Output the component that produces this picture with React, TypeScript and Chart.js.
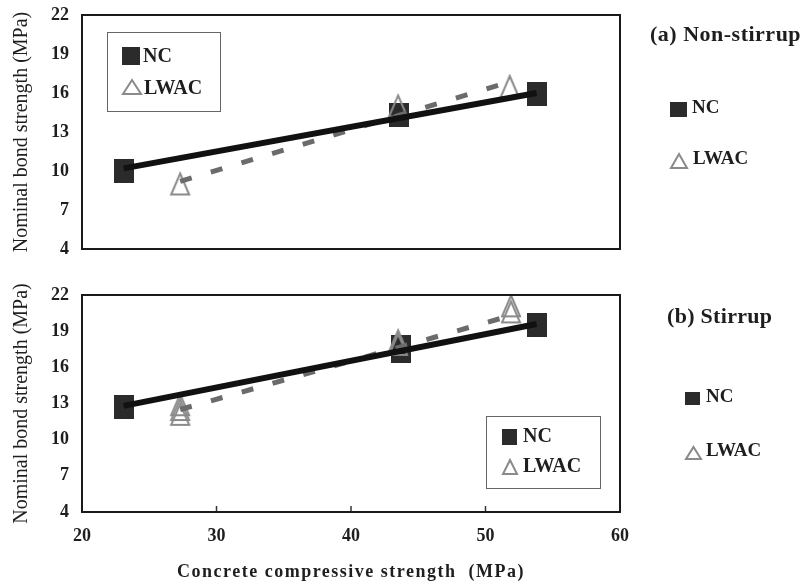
import React, { useEffect, useRef } from 'react';
import { Chart, registerables } from 'chart.js';

Chart.register(...registerables);

// ---------- axis ranges ----------
const X_MIN = 20;
const X_MAX = 60;
const X_STEP = 10;
const Y_MIN = 4;
const Y_MAX = 22;
const Y_STEP = 3;

// ---------- (a) Non-stirrup ----------
const ncTopX = [23.1, 43.6, 53.8];
const ncTopY = [10.0, 14.3, 15.9];
const lwacTopX = [27.3, 43.5, 51.8];
const lwacTopY = [9.0, 15.0, 16.5];
const ncTrendTopX = [23.1, 53.8];
const ncTrendTopY = [10.2, 16.0];
const lwacTrendTopX = [27.3, 51.8];
const lwacTrendTopY = [9.2, 16.85];

// ---------- (b) Stirrup ----------
const ncBotX = [23.1, 43.7, 43.7, 53.8];
const ncBotY = [12.75, 17.7, 17.35, 19.5];
const lwacBotX = [27.3, 27.3, 27.3, 43.5, 43.5, 51.9, 51.9];
const lwacBotY = [12.9, 12.5, 12.1, 18.2, 17.9, 21.1, 20.6];
const ncTrendBotX = [23.1, 53.8];
const ncTrendBotY = [12.8, 19.6];
const lwacTrendBotX = [27.3, 51.9];
const lwacTrendBotY = [12.5, 20.3];

// ---------- text ----------
const Y_TITLE = 'Nominal bond strength (MPa)';
const X_TITLE = 'Concrete compressive strength  (MPa)';
const PANEL_A = '(a) Non-stirrup';
const PANEL_B = '(b) Stirrup';
const NC = 'NC';
const LWAC = 'LWAC';

const FONT = "'Liberation Serif', 'Times New Roman', serif";
const SQ_COLOR = '#2b2b2b';
const TRI_COLOR = '#8a8a8a';
const TEXT_COLOR = '#1e1e1e';

Chart.defaults.font.family = FONT;
Chart.defaults.color = TEXT_COLOR;

const pts = (xs: number[], ys: number[]) => xs.map((x, i) => ({ x, y: ys[i] }));

function makeSquare(w: number, h: number) {
  const c = document.createElement('canvas');
  c.width = w;
  c.height = h;
  const g = c.getContext('2d')!;
  g.fillStyle = SQ_COLOR;
  g.fillRect(0, 0, w, h);
  return c;
}

function makeTriangle(w: number, h: number) {
  const pad = 2;
  const c = document.createElement('canvas');
  c.width = w + pad * 2;
  c.height = h + pad * 2;
  const g = c.getContext('2d')!;
  g.strokeStyle = TRI_COLOR;
  g.lineWidth = 2;
  g.beginPath();
  g.moveTo(pad + w / 2, pad + 1);
  g.lineTo(pad + w - 1, pad + h - 1);
  g.lineTo(pad + 1, pad + h - 1);
  g.closePath();
  g.stroke();
  return c;
}

function drawSq(ctx: CanvasRenderingContext2D, x: number, y: number, w: number, h: number) {
  ctx.fillStyle = SQ_COLOR;
  ctx.fillRect(x, y, w, h);
}

function drawTri(ctx: CanvasRenderingContext2D, x: number, y: number, w: number, h: number) {
  ctx.strokeStyle = TRI_COLOR;
  ctx.lineWidth = 2;
  ctx.beginPath();
  ctx.moveTo(x + w / 2, y + 1);
  ctx.lineTo(x + w - 1, y + h - 1);
  ctx.lineTo(x + 1, y + h - 1);
  ctx.closePath();
  ctx.stroke();
}

function text(
  ctx: CanvasRenderingContext2D,
  s: string,
  x: number,
  cy: number,
  size: number,
  spacing = 0,
  align: CanvasTextAlign = 'left'
) {
  ctx.font = `bold ${size}px ${FONT}`;
  ctx.fillStyle = TEXT_COLOR;
  ctx.textBaseline = 'middle';
  ctx.textAlign = align;
  (ctx as any).letterSpacing = `${spacing}px`;
  ctx.fillText(s, x, cy);
  (ctx as any).letterSpacing = '0px';
}

function framePlugin(id: string, innerTicks: boolean, extra: (ctx: CanvasRenderingContext2D, chart: any) => void) {
  return {
    id,
    afterDraw(chart: any) {
      const { ctx, chartArea: a } = chart;
      ctx.save();
      if (innerTicks) {
        const xs = chart.scales.x;
        ctx.strokeStyle = '#333';
        ctx.lineWidth = 1.5;
        xs.ticks.forEach((t: any) => {
          if (t.value <= xs.min || t.value >= xs.max) return;
          const px = xs.getPixelForValue(t.value);
          ctx.beginPath();
          ctx.moveTo(px, a.bottom);
          ctx.lineTo(px, a.bottom - 6);
          ctx.stroke();
        });
      }
      ctx.strokeStyle = '#1a1a1a';
      ctx.lineWidth = 2;
      ctx.strokeRect(a.left, a.top, a.right - a.left, a.bottom - a.top);
      extra(ctx, chart);
      ctx.restore();
    },
  };
}

function datasets(
  sq: HTMLCanvasElement,
  tri: HTMLCanvasElement,
  ncX: number[], ncY: number[],
  lwX: number[], lwY: number[],
  ntX: number[], ntY: number[],
  ltX: number[], ltY: number[]
) {
  return [
    {
      label: NC + ' trend',
      data: pts(ntX, ntY),
      showLine: true,
      borderColor: '#111111',
      borderWidth: 6,
      borderCapStyle: 'butt',
      pointRadius: 0,
      order: 0,
    },
    {
      label: LWAC + ' trend',
      data: pts(ltX, ltY),
      showLine: true,
      borderColor: '#6b6b6b',
      borderWidth: 5,
      borderDash: [12, 20],
      borderCapStyle: 'butt',
      pointRadius: 0,
      order: 1,
    },
    {
      label: LWAC,
      data: pts(lwX, lwY),
      showLine: false,
      pointStyle: tri,
      pointRadius: 12,
      order: 2,
    },
    {
      label: NC,
      data: pts(ncX, ncY),
      showLine: false,
      pointStyle: sq,
      pointRadius: 12,
      order: 3,
    },
  ];
}

function yScale() {
  return {
    type: 'linear',
    min: Y_MIN,
    max: Y_MAX,
    ticks: { stepSize: Y_STEP, font: { size: 18, weight: 'bold' }, color: TEXT_COLOR, padding: 13 },
    grid: { display: false, drawTicks: false },
    border: { display: false },
    title: {
      display: true,
      text: Y_TITLE,
      font: { size: 20, weight: 'normal' },
      color: TEXT_COLOR,
      padding: { top: 10, bottom: 0 },
    },
    afterFit: (s: any) => {
      s.width = 82;
      s.paddingTop = 0;
      s.paddingBottom = 0;
    },
  };
}

export default function App() {
  const topRef = useRef<HTMLCanvasElement>(null);
  const botRef = useRef<HTMLCanvasElement>(null);

  useEffect(() => {
    const sq = makeSquare(20, 24);
    const tri = makeTriangle(20, 23);

    const top = new Chart(topRef.current!, {
      type: 'scatter',
      data: {
        datasets: datasets(sq, tri, ncTopX, ncTopY, lwacTopX, lwacTopY, ncTrendTopX, ncTrendTopY, lwacTrendTopX, lwacTrendTopY) as any,
      },
      options: {
        responsive: false,
        animation: false,
        layout: { padding: { left: 0, top: 15, right: 186, bottom: 21 } },
        plugins: { legend: { display: false }, tooltip: { enabled: false } },
        scales: {
          x: { type: 'linear', min: X_MIN, max: X_MAX, display: false, ticks: { stepSize: X_STEP } },
          y: yScale() as any,
        },
      },
      plugins: [
        framePlugin('frameTop', false, (ctx) => {
          ctx.fillStyle = '#fff';
          ctx.fillRect(107.5, 32.5, 113, 79);
          ctx.strokeStyle = '#666';
          ctx.lineWidth = 1;
          ctx.strokeRect(107.5, 32.5, 113, 79);
          drawSq(ctx, 122, 47, 18, 18);
          text(ctx, NC, 143, 57, 20);
          drawTri(ctx, 122, 79, 20, 16);
          text(ctx, LWAC, 144, 89, 20);

          text(ctx, PANEL_A, 650, 35, 22, 0.5);
          drawSq(ctx, 670, 102, 17, 15);
          text(ctx, NC, 692, 108, 19);
          drawTri(ctx, 670, 153, 18, 16);
          text(ctx, LWAC, 693, 159, 19);
        }),
      ],
    } as any);

    const bot = new Chart(botRef.current!, {
      type: 'scatter',
      data: {
        datasets: datasets(sq, tri, ncBotX, ncBotY, lwacBotX, lwacBotY, ncTrendBotX, ncTrendBotY, lwacTrendBotX, lwacTrendBotY) as any,
      },
      options: {
        responsive: false,
        animation: false,
        layout: { padding: { left: 0, top: 25, right: 186, bottom: 0 } },
        plugins: { legend: { display: false }, tooltip: { enabled: false } },
        scales: {
          x: {
            type: 'linear',
            min: X_MIN,
            max: X_MAX,
            ticks: { stepSize: X_STEP, font: { size: 18, weight: 'bold' }, color: TEXT_COLOR, padding: 14 },
            grid: { display: false, drawTicks: false },
            border: { display: false },
            afterFit: (s: any) => {
              s.height = 72;
              s.paddingLeft = 0;
              s.paddingRight = 0;
            },
          },
          y: yScale() as any,
        },
      },
      plugins: [
        framePlugin('frameBot', true, (ctx, chart) => {
          const a = chart.chartArea;
          ctx.fillStyle = '#fff';
          ctx.fillRect(486.5, 146.5, 114, 72);
          ctx.strokeStyle = '#666';
          ctx.lineWidth = 1;
          ctx.strokeRect(486.5, 146.5, 114, 72);
          drawSq(ctx, 502, 159, 15, 16);
          text(ctx, NC, 523, 167, 20);
          drawTri(ctx, 502, 189, 16, 16);
          text(ctx, LWAC, 523, 197, 20);

          text(ctx, PANEL_B, 667, 47, 22, 0.3);
          drawSq(ctx, 685, 122, 15, 13);
          text(ctx, NC, 706, 127, 19);
          drawTri(ctx, 685, 176, 17, 14);
          text(ctx, LWAC, 706, 181, 19);

          text(ctx, X_TITLE, (a.left + a.right) / 2, 302, 18, 1.5, 'center');
        }),
      ],
    } as any);

    return () => {
      top.destroy();
      bot.destroy();
    };
  }, []);

  return (
    <div style={{ position: 'absolute', left: 0, top: 0, width: 806, height: 584, background: '#fff' }}>
      <canvas ref={topRef} width={806} height={270} style={{ position: 'absolute', left: 0, top: 0 }} />
      <canvas ref={botRef} width={806} height={314} style={{ position: 'absolute', left: 0, top: 270 }} />
    </div>
  );
}
